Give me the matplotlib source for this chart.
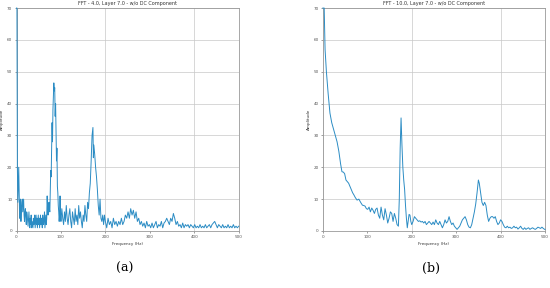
"""Two FFT amplitude spectra side by side, labelled (a) and (b)."""

import matplotlib.pyplot as plt

# panel (a): FFT - 4.0  (DC residual runs off the top of the axes, shown at 70)
freq_a = [
    0, 1, 2, 3, 4, 5, 6, 7, 8, 9, 10, 11, 12, 13, 14, 15, 16, 17, 18, 19,
    20, 21, 22, 23, 24, 25, 26, 27, 28, 29, 30, 31, 32, 33, 34, 35, 36, 37, 38, 39,
    40, 41, 42, 43, 44, 45, 46, 47, 48, 49, 50, 51, 52, 53, 54, 55, 56, 57, 58, 59,
    60, 61, 62, 63, 64, 65, 66, 67, 68, 69, 70, 71, 72, 73, 74, 75, 76, 77, 78, 79,
    80, 81, 82, 83, 84, 85, 86, 87, 88, 89, 90, 91, 92, 93, 94, 95, 96, 97, 98, 99,
    100, 102, 104, 106, 108, 110, 112, 114, 116, 118, 120, 122, 124, 126, 128, 130,
    132, 134, 136, 138, 140, 142, 144, 146, 148, 150, 152, 154, 156, 158, 160, 162,
    164, 166, 168, 170, 172, 173, 174, 176, 178, 180, 182, 184, 186, 188, 190, 192,
    194, 196, 198, 200, 203, 206, 209, 212, 215, 218, 221, 224, 227, 230, 233, 236,
    239, 242, 245, 248, 251, 254, 257, 260, 263, 266, 269, 272, 275, 278, 281, 284,
    287, 290, 293, 296, 299, 302, 305, 308, 311, 314, 317, 320, 323, 326, 329, 332,
    335, 338, 341, 344, 347, 350, 353, 356, 359, 362, 365, 368, 371, 374, 377, 380,
    383, 386, 389, 392, 395, 398, 401, 404, 407, 410, 413, 416, 419, 422, 425, 428,
    431, 434, 437, 440, 443, 446, 449, 452, 455, 458, 461, 464, 467, 470, 473, 476,
    479, 482, 485, 488, 491, 494, 497, 500,
]
amp_a = [
    70, 70, 20, 9, 14, 20, 12, 4, 9, 10, 3, 7, 9, 10, 6, 8, 10, 5, 3, 6,
    7, 4, 2, 6, 5, 3, 1.5, 4, 6, 3, 1, 4, 2, 5, 1, 3, 2, 1, 4, 2,
    3, 5, 1, 3, 5, 2, 4, 1, 3, 5, 2, 4, 1, 3, 5, 2, 4, 3, 1, 5,
    3, 2, 4, 6, 1, 3, 5, 2, 4, 11, 7, 5, 6, 9, 7, 6, 13, 19, 17, 25,
    34, 28, 38, 42, 46.5, 44, 45, 36, 40, 30, 22, 26, 14, 12, 8, 6, 3, 5, 11, 5,
    3, 7, 4, 2, 6, 3, 8, 4, 2, 5, 7, 3, 1, 6, 4, 2,
    7, 3, 5, 2, 8, 4, 6, 3, 1, 5, 3, 8, 5, 3, 9, 7,
    12, 15, 22, 30, 32.5, 23, 27, 24, 20, 17, 13, 8, 5, 10, 4, 3,
    5, 2, 5, 3, 1, 4, 2, 3, 1, 4, 2, 3, 1.5, 3, 2, 4,
    2, 3, 5, 4, 6, 4, 7, 5, 6.5, 4, 6, 3, 4, 2, 3, 1.5,
    2.5, 1, 3, 1.5, 2, 1, 2.5, 1, 2, 3, 1, 2, 1.5, 3, 1, 2.5,
    3, 4, 3, 2, 4, 3, 5.5, 4, 2, 3, 1.5, 2, 1, 2.5, 1, 2,
    1.5, 2, 1, 2, 1.5, 1, 2, 1, 1.5, 1, 2, 1, 1.5, 1, 2, 1,
    1.5, 2, 1, 2, 2.5, 3, 2, 1, 2, 1.5, 1, 2, 1, 1.5, 1, 2,
    1, 1.5, 1, 2, 1, 1.5, 1, 1.5,
]

# panel (b): FFT - 10.0
freq_b = [
    0, 3, 5, 8, 12, 16, 20, 24, 28, 32, 36, 40, 43, 46, 49, 52, 55, 58, 61, 64,
    67, 70, 73, 77, 81, 85, 89, 92, 95, 98, 101, 104, 107, 110, 113, 116, 119, 122,
    125, 128, 131, 134, 137, 140, 143, 146, 149, 152, 155, 158, 161, 164, 167, 170,
    172, 174, 176, 178, 180, 182, 184, 186, 188, 190, 192, 194, 196, 198, 200, 203,
    206, 209, 212, 215, 218, 221, 224, 227, 230, 233, 236, 239, 242, 245, 248, 251,
    254, 257, 260, 263, 266, 269, 272, 275, 278, 281, 284, 287, 290, 293, 296, 299,
    302, 305, 308, 311, 314, 317, 320, 323, 326, 329, 332, 335, 338, 341, 344, 347,
    350, 352, 355, 358, 361, 364, 367, 370, 373, 376, 379, 382, 385, 388, 391, 394,
    397, 400, 403, 406, 409, 412, 415, 418, 421, 424, 427, 430, 433, 436, 439, 442,
    445, 448, 451, 454, 457, 460, 463, 466, 469, 472, 475, 478, 481, 484, 487, 490,
    493, 496, 499, 500,
]
amp_b = [
    70, 70, 57, 50, 43, 37, 34, 32, 30, 28, 25, 21, 18.6, 18.5, 18, 16, 15.5, 15, 14, 13,
    12, 11.3, 10.5, 9.7, 10, 9, 8.1, 8, 7.8, 7, 6.8, 7.5, 6, 7.2, 6.5, 5.5, 6.8, 7.2,
    5, 4, 7.5, 5, 3.5, 7, 5, 2.5, 4, 6, 5.5, 3, 5.5, 4, 2, 1.5,
    10, 26, 35.5, 27, 20, 16, 13, 8, 4, 1, 3, 5.2, 5, 3, 2, 3,
    4.5, 4, 3.5, 3, 3.2, 2.8, 3, 2.5, 3, 2, 2.5, 3, 2.5, 2, 2.8, 2,
    3.5, 2.5, 2, 3, 2, 1, 2, 3.5, 2.5, 3, 4.5, 3, 2, 2.5, 1.5, 1,
    0.5, 1, 1.5, 2.5, 3.5, 4, 4.5, 3.5, 2, 1.2, 1, 2, 4, 6, 8.5, 12,
    16, 15, 12, 9, 8, 9, 8, 5, 3, 4, 4.5, 4.5, 4, 4.5, 3, 2,
    2.5, 3.5, 3, 2, 1.2, 1, 1.5, 1, 1.2, 0.8, 1, 1.5, 1, 1.2, 0.6, 1,
    1.5, 0.8, 0.5, 1, 0.5, 0.8, 1, 0.5, 0.8, 1, 0.7, 0.5, 0.8, 1.2, 1, 0.8,
    1.2, 0.8, 0.5, 0.5,
]

titles = [
    "FFT - 4.0, Layer 7.0 - w/o DC Component",
    "FFT - 10.0, Layer 7.0 - w/o DC Component",
]
panel_labels = ["(a)", "(b)"]
y_ticks = [0, 10, 20, 30, 40, 50, 60, 70]
x_grid_ticks = [0, 200, 400]
x_other_ticks = [100, 300, 500]

line_color = "#2b8cc4"
fig = plt.figure(figsize=(5.5, 2.88), dpi=100)
axes_boxes = [
    [0.030, 0.198, 0.404, 0.774],
    [0.587, 0.198, 0.404, 0.774],
]
series = [(freq_a, amp_a), (freq_b, amp_b)]

for box, (freq, amp), title, label in zip(axes_boxes, series, titles, panel_labels):
    ax = fig.add_axes(box)
    # not clipped, so the spike sitting on the y axis stays visible
    ax.plot(freq, amp, color=line_color, linewidth=0.7, zorder=3, clip_on=False)
    ax.set_xlim(0, 500)
    ax.set_ylim(0, 70)
    ax.set_yticks(y_ticks)
    ax.set_xticks(x_grid_ticks)
    ax.set_xticks(x_other_ticks, minor=True)
    ax.set_xticklabels([str(t) for t in x_other_ticks], minor=True)
    ax.tick_params(which="both", labelsize=3, length=1.5, width=0.4, pad=1.5,
                   colors="#555555")
    ax.grid(True, which="major", color="#c8c8c8", linewidth=0.5)
    for spine in ax.spines.values():
        spine.set_color("#999999")
        spine.set_linewidth(0.6)
    ax.set_title(title, fontsize=3.5, pad=2, color="#333333")
    ax.set_ylabel("Amplitude", fontsize=3, labelpad=2, color="#333333")
    ax.set_xlabel("Frequency (Hz)", fontsize=3, labelpad=2, color="#333333")
    center = box[0] + box[2] / 2
    fig.text(center - 0.005, 0.067, label, fontsize=9, family="DejaVu Serif",
             ha="center", va="center")

fig.savefig("out.png", dpi=100)
